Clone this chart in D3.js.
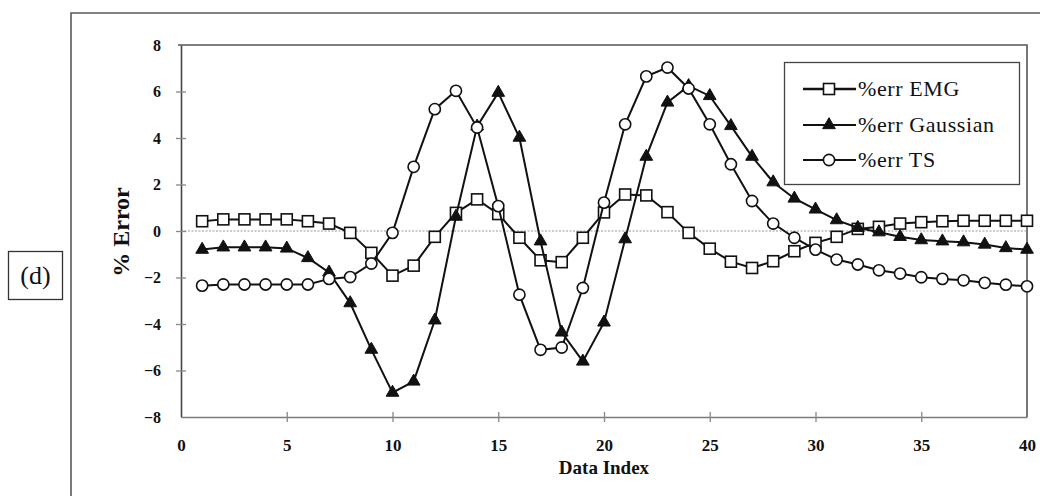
<!DOCTYPE html>
<html>
<head>
<meta charset="utf-8">
<script src="https://cdn.jsdelivr.net/npm/d3@7"></script>
<style>
  html, body { margin: 0; padding: 0; background: #fff; }
  svg { display: block; }
  text { font-family: "Liberation Serif", "Times New Roman", serif; fill: #111; }
</style>
</head>
<body>
<svg id="chart" width="1040" height="496"></svg>
<script>
// Data index 1..40
const dataIndex = d3.range(1, 41);

// Percentage error per model
const errEMG = [0.42, 0.50, 0.50, 0.50, 0.50, 0.42, 0.32, -0.08, -0.94, -1.92,
  -1.49, -0.25, 0.78, 1.36, 0.73, -0.29, -1.26, -1.34, -0.29, 0.80,
  1.57, 1.53, 0.81, -0.08, -0.76, -1.32, -1.59, -1.30, -0.87, -0.51,
  -0.25, 0.09, 0.18, 0.32, 0.38, 0.42, 0.44, 0.44, 0.44, 0.44];

const errGaussian = [-0.80, -0.70, -0.70, -0.70, -0.75, -1.16, -1.78, -3.10, -5.10, -6.95,
  -6.47, -3.84, 0.62, 4.50, 5.95, 4.02, -0.44, -4.36, -5.61, -3.93,
  -0.35, 3.20, 5.53, 6.24, 5.81, 4.52, 3.20, 2.10, 1.40, 0.93,
  0.47, 0.14, -0.05, -0.25, -0.39, -0.44, -0.48, -0.58, -0.73, -0.80];

const errTS = [-2.35, -2.30, -2.30, -2.30, -2.30, -2.30, -2.06, -1.98, -1.40, -0.08,
  2.76, 5.24, 6.03, 4.45, 1.07, -2.74, -5.11, -5.01, -2.45, 1.22,
  4.59, 6.65, 7.03, 6.13, 4.59, 2.87, 1.29, 0.32, -0.29, -0.80,
  -1.23, -1.44, -1.69, -1.83, -1.99, -2.06, -2.12, -2.23, -2.31, -2.38];

const seriesNames = ["%err EMG", "%err Gaussian", "%err TS"];
const markerKinds = ["square", "triangle", "circle"];

const xTickValues = [0, 5, 10, 15, 20, 25, 30, 35, 40];
const yTickValues = [-8, -6, -4, -2, 0, 2, 4, 6, 8];

const svg = d3.select("#chart");

// Plot region
const plotL = 181, plotR = 1027, plotT = 45, plotB = 417;
const x = d3.scaleLinear().domain([0, 40]).range([plotL, plotR]);
const y = d3.scaleLinear().domain([-8, 8]).range([plotB, plotT]);

// Outer figure frame (left and top edges)
svg.append("path")
  .attr("d", `M71,496 V13 H1040`)
  .attr("fill", "none").attr("stroke", "#5a5a5a").attr("stroke-width", 1.6);

// Panel tag
svg.append("rect").attr("x", 8.5).attr("y", 251.5).attr("width", 54).attr("height", 48)
  .attr("fill", "#fff").attr("stroke", "#333").attr("stroke-width", 1.3);
svg.append("text").attr("x", 35.5).attr("y", 284).attr("text-anchor", "middle")
  .style("font-size", "26px").text("(d)");

// Plot box: top and right edges
svg.append("path")
  .attr("d", `M${plotL - 3},${plotT} H${plotR} V${plotB}`)
  .attr("fill", "none").attr("stroke", "#555").attr("stroke-width", 1.6);

// Zero reference line
svg.append("line")
  .attr("x1", plotL).attr("x2", plotR).attr("y1", y(0)).attr("y2", y(0))
  .attr("stroke", "#999").attr("stroke-width", 1.2).attr("stroke-dasharray", "2,1.5");

// Y axis
const yAxis = d3.axisLeft(y).tickValues(yTickValues).tickSize(0).tickPadding(20)
  .tickFormat(d3.format("d"));
const gy = svg.append("g").attr("transform", `translate(${plotL},0)`).call(yAxis);
gy.select(".domain").attr("stroke", "#444").attr("stroke-width", 1.6);
gy.selectAll(".tick text").style("font-size", "16px").style("font-weight", "bold")
  .attr("dy", "0.34em").attr("fill", "#111");
gy.selectAll(".tick").filter(d => d !== 8 && d !== -8).append("line")
  .attr("x1", -5).attr("x2", 5).attr("stroke", "#888").attr("stroke-width", 1.3);

// X axis
const xAxis = d3.axisBottom(x).tickValues(xTickValues).tickSize(0).tickPadding(22)
  .tickFormat(d3.format("d"));
const gx = svg.append("g").attr("transform", `translate(0,${plotB})`).call(xAxis);
gx.select(".domain").attr("stroke", "#7a7a7a").attr("stroke-width", 1.6);
gx.selectAll(".tick text").style("font-size", "17px").style("font-weight", "bold")
  .attr("fill", "#111");
gx.selectAll(".tick").filter(d => d !== 0 && d !== 40).append("line")
  .attr("y1", -5).attr("y2", 5).attr("stroke", "#888").attr("stroke-width", 1.3);

// Axis titles
svg.append("text").attr("x", x(20)).attr("y", 474).attr("text-anchor", "middle")
  .style("font-size", "19px").style("font-weight", "bold").text("Data Index");
svg.append("text")
  .attr("transform", `translate(129,232) rotate(-90)`)
  .attr("text-anchor", "middle")
  .style("font-size", "24px").style("font-weight", "bold").text("% Error");

// Series
const series = [errEMG, errGaussian, errTS].map((vals, i) => ({
  name: seriesNames[i],
  kind: markerKinds[i],
  points: dataIndex.map((d, j) => ({ i: d, v: vals[j] }))
}));

const line = d3.line().x(d => x(d.i)).y(d => y(d.v));

function drawMarker(sel, kind) {
  if (kind === "square") {
    sel.append("rect").attr("x", -5.5).attr("y", -5.5).attr("width", 11).attr("height", 11)
      .attr("fill", "#fff").attr("stroke", "#111").attr("stroke-width", 1.6);
  } else if (kind === "triangle") {
    sel.append("path").attr("d", d3.symbol(d3.symbolTriangle, 70)())
      .attr("fill", "#111").attr("stroke", "#111").attr("stroke-width", 1);
  } else {
    sel.append("circle").attr("r", 5.6)
      .attr("fill", "#fff").attr("stroke", "#111").attr("stroke-width", 1.6);
  }
}

series.forEach(s => {
  const g = svg.append("g");
  g.append("path").datum(s.points).attr("d", line)
    .attr("fill", "none").attr("stroke", "#111").attr("stroke-width", 2);
  g.selectAll("g.m").data(s.points).join("g").attr("class", "m")
    .attr("transform", d => `translate(${x(d.i)},${y(d.v)})`)
    .each(function () { drawMarker(d3.select(this), s.kind); });
});

// Legend
const lg = svg.append("g");
lg.append("rect").attr("x", 784.5).attr("y", 62.5).attr("width", 235).attr("height", 122)
  .attr("fill", "#fff").attr("stroke", "#444").attr("stroke-width", 1.3);
const rowY = [89, 125, 160];
series.forEach((s, i) => {
  const r = lg.append("g").attr("transform", `translate(0,${rowY[i]})`);
  r.append("line").attr("x1", 803).attr("x2", 856).attr("y1", 0).attr("y2", 0)
    .attr("stroke", "#111").attr("stroke-width", i === 0 ? 2.6 : 2);
  const m = r.append("g").attr("transform", "translate(829,0)");
  drawMarker(m, s.kind);
  r.append("text").attr("x", 858).attr("y", 7).style("font-size", "22px")
    .style("letter-spacing", "0.6px").text(s.name);
});
</script>
</body>
</html>
